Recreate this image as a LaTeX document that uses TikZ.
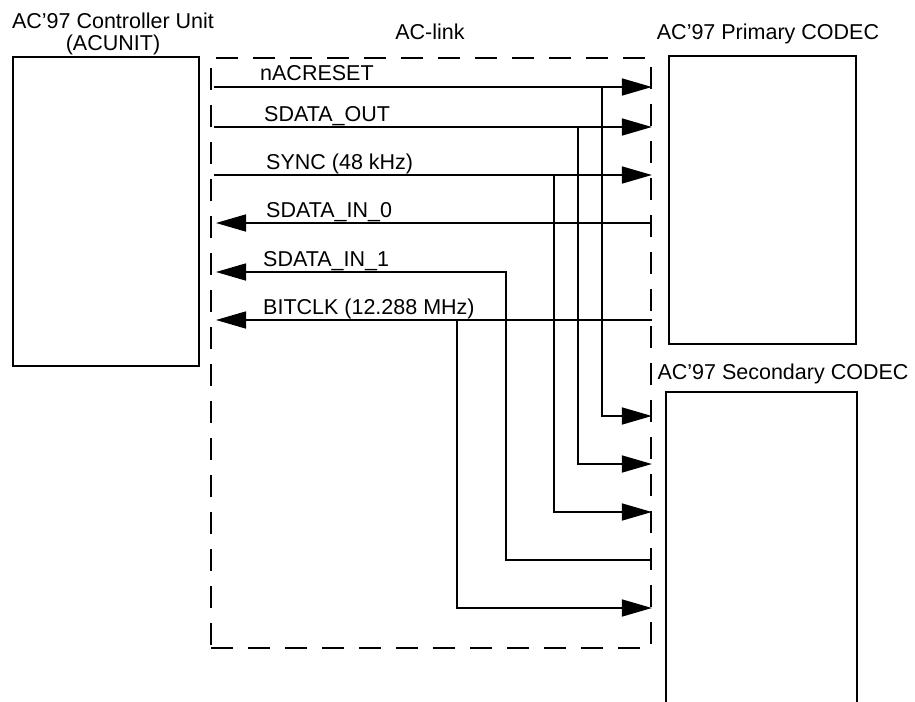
\documentclass[tikz,border=0pt]{standalone}
\usepackage{fontspec}
\setmainfont{Liberation Sans}
\usetikzlibrary{arrows.meta,positioning}

\begin{document}
\begin{tikzpicture}[x=1pt,y=-1pt,>={Triangle[length=30pt,width=17pt]},
  box/.style={draw,line width=1.6pt,inner sep=0pt},
  sig/.style={line width=1.6pt},
  lbl/.style={anchor=base west,inner sep=0pt,font=\fontsize{21.5}{19}\selectfont},
  ttl/.style={anchor=base,inner sep=0pt,font=\fontsize{21.5}{21.5}\selectfont}]
  \clip (0,0) rectangle (915,701);

  % Controller, codecs and the AC-link frame.
  \node[box,minimum width=186pt,minimum height=309pt] (ctrl) at (106,211.5) {};
  \node[box,minimum width=187pt,minimum height=288pt] (prim) at (762.5,200) {};
  \node[box,minimum width=191pt,minimum height=370pt] (sec) at (761.5,577) {};
  \node[draw,line width=1.8pt,dash pattern=on 22pt off 15pt,inner sep=0pt,
    minimum width=440pt,minimum height=590pt] (link) at (431,353) {};

  % Titles.
  \node[ttl,align=center,anchor=south] (ctrlT) at (113,55)
    {AC'97 Controller Unit\\(ACUNIT)};
  \node[ttl] (linkT) at (430,40) {AC-link};
  \node[ttl] (primT) at (768,40) {AC'97 Primary CODEC};
  \node[ttl] (secT) at (783,379) {AC'97 Secondary CODEC};

  % Ends of the six lines on the frame walls.
  \coordinate (rstL) at (214,87);
  \coordinate (sdoL) at (214,127);
  \coordinate (syncL) at (214,175);
  \coordinate (sdi0L) at (216,223);
  \coordinate (sdi1L) at (216,272);
  \coordinate (bclkL) at (216,320);
  \coordinate (rstR) at (link.east |- rstL);
  \coordinate (sdoR) at (link.east |- sdoL);
  \coordinate (syncR) at (link.east |- syncL);
  \coordinate (sdi0R) at (link.east |- sdi0L);
  \coordinate (bclkR) at (link.east |- bclkL);

  % Taps down to the secondary codec.
  \coordinate (rstB) at (602,87);
  \coordinate (sdoB) at (578,127);
  \coordinate (syncB) at (554,175);
  \coordinate (sdi1B) at (506,272);
  \coordinate (bclkB) at (457,320);
  \coordinate (rstS) at (link.east |- 0,416);
  \coordinate (sdoS) at (link.east |- 0,464);
  \coordinate (syncS) at (link.east |- 0,512);
  \coordinate (sdi1S) at (link.east |- 0,560);
  \coordinate (bclkS) at (link.east |- 0,608);

  % Outputs of the controller.
  \draw[sig,->] (rstL) -- (rstR);
  \draw[sig,->] (rstB) |- (rstS);
  \draw[sig,->] (sdoL) -- (sdoR);
  \draw[sig,->] (sdoB) |- (sdoS);
  \draw[sig,->] (syncL) -- (syncR);
  \draw[sig,->] (syncB) |- (syncS);

  % Inputs of the controller.
  \draw[sig,->] (sdi0R) -- (sdi0L);
  \draw[sig,->] (sdi1S) -| (sdi1B) -- (sdi1L);
  \draw[sig,->] (bclkR) -- (bclkL);
  \draw[sig,->] (bclkB) |- (bclkS);

  % Line labels.
  \node[lbl] (rstT) at (260,81) {nACRESET};
  \node[lbl] (sdoT) at (264,121) {SDATA\_OUT};
  \node[lbl] (syncT) at (266,169) {SYNC (48 kHz)};
  \node[lbl] (sdi0T) at (266,217) {SDATA\_IN\_0};
  \node[lbl] (sdi1T) at (263,266) {SDATA\_IN\_1};
  \node[lbl] (bclkT) at (263,314) {BITCLK (12.288 MHz)};
\end{tikzpicture}
\end{document}
